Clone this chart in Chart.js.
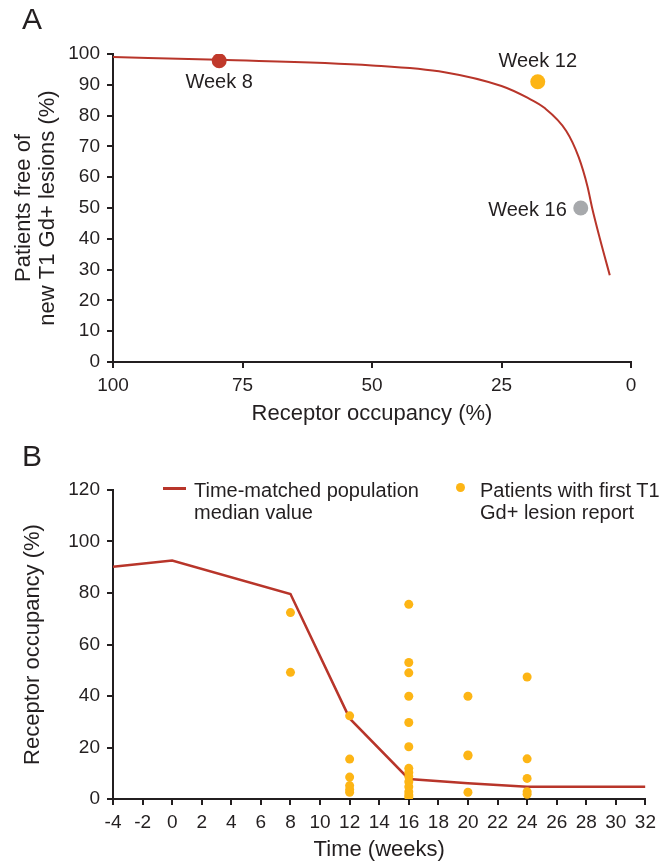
<!DOCTYPE html>
<html lang="en">
<head>
<meta charset="UTF-8">
<title>Receptor occupancy</title>
<script src="https://cdn.jsdelivr.net/npm/chart.js"></script>
<style>
body{margin:0;background:#fff;font-family:"Liberation Sans",Arial,sans-serif;color:#231f20}
#wrap{position:relative;width:662px;height:863px}
.panel{position:absolute;left:22px;font-size:30px;line-height:30px}
#boxA{position:absolute;left:0;top:0}
#boxB{position:absolute;left:0;top:430px}
.leg{position:absolute;font-size:20px;line-height:22px}
</style>
</head>
<body>
<div id="wrap">
  <canvas id="boxA" width="662" height="430"></canvas>
  <canvas id="boxB" width="662" height="433"></canvas>
  <div class="panel" style="top:4px">A</div>
  <div class="panel" style="top:441px">B</div>
  <div style="position:absolute;left:163px;top:487px;width:23px;height:2.5px;background:#b8352a"></div>
  <div class="leg" style="left:194px;top:479px">Time-matched population<br>median value</div>
  <div style="position:absolute;left:456px;top:483px;width:9px;height:9px;border-radius:50%;background:#fdb515"></div>
  <div class="leg" style="left:480px;top:479px">Patients with first T1<br>Gd+ lesion report</div>
</div>

<script>
    // panel A: fitted curve, receptor occupancy (%) vs patients free of lesions (%)
    const curveOcc  = [100, 79.6, 50, 36, 25, 20, 16.8, 12.5, 10.1, 8.4, 7.5, 6, 4.1];
    const curveFree = [99, 98.1, 96.3, 94.1, 89.6, 85.8, 82.6, 75, 66.5, 57, 50, 40, 28.2];

    const weekNames = ['Week 8', 'Week 12', 'Week 16'];
    const weekOcc   = [79.5, 18, 9.7];
    const weekFree  = [97.8, 91, 50];
    const weekColors = ['#c0392b', '#fdb515', '#a7a9ac'];

    // panel B: receptor occupancy over time
    const medianWeeks = [-4, 0, 8, 12, 16, 20, 24, 32];
    const medianOcc   = [90.2, 92.6, 79.6, 31.3, 7.8, 6.1, 4.8, 4.8];

    const lesionWeeks = [8, 8,
        12, 12, 12, 12, 12, 12,
        16, 16, 16, 16, 16, 16, 16, 16, 16, 16, 16, 16, 16, 16,
        20, 20, 20, 20,
        24, 24, 24, 24, 24];
    const lesionOcc = [72.4, 49.2,
        32.3, 15.5, 8.5, 5.2, 3.7, 2.6,
        75.6, 53, 49, 39.9, 29.7, 20.3, 11.9, 10.3, 8.7, 6.7, 4.8, 2.8, 1.6, 0.8,
        39.9, 17.1, 16.8, 2.6,
        47.4, 15.6, 8, 2.8, 1.8];

    const ink = '#231f20';
    const red = '#b8352a';
    const fontFam = '"Liberation Sans", Arial, sans-serif';

    function toPoints(xs, ys) {
        return xs.map((x, i) => ({ x: x, y: ys[i] }));
    }

    function axis(min, max, step, pad, opts) {
        return Object.assign({
            type: 'linear',
            min: min,
            max: max,
            ticks: { stepSize: step, color: ink, font: { family: fontFam, size: 19 }, autoSkip: false, maxRotation: 0, padding: pad },
            grid: { drawOnChartArea: false, drawTicks: true, tickLength: 6, color: ink, lineWidth: 2 },
            border: { color: ink, width: 2 }
        }, opts);
    }

    // labels next to the week points in panel A
    const weekLabelPlugin = {
        id: 'weekLabels',
        afterDatasetsDraw(chart) {
            const ctx = chart.ctx;
            const xs = chart.scales.x, ys = chart.scales.y;
            const offs = [[0, 22, 'center'], [0, -20, 'center'], [-14, 2, 'right']];
            ctx.save();
            ctx.font = '20px ' + fontFam;
            ctx.fillStyle = ink;
            ctx.textBaseline = 'middle';
            weekNames.forEach((name, i) => {
                ctx.textAlign = offs[i][2];
                ctx.fillText(name, xs.getPixelForValue(weekOcc[i]) + offs[i][0], ys.getPixelForValue(weekFree[i]) + offs[i][1]);
            });
            ctx.restore();
        }
    };

    Chart.defaults.font.family = fontFam;
    Chart.defaults.color = ink;

    new Chart(document.getElementById('boxA'), {
        type: 'scatter',
        data: {
            datasets: [{
                data: toPoints(weekOcc, weekFree),
                pointRadius: 7.5,
                pointHoverRadius: 7.5,
                backgroundColor: weekColors,
                borderWidth: 0,
                order: 0
            }, {
                data: toPoints(curveOcc, curveFree),
                showLine: true,
                cubicInterpolationMode: 'monotone',
                borderColor: red,
                borderWidth: 2,
                pointRadius: 0,
                order: 1
            }]
        },
        options: {
            responsive: false,
            animation: false,
            layout: { padding: { top: 54, right: 31, bottom: 0, left: 0 } },
            plugins: { legend: { display: false }, tooltip: { enabled: false } },
            scales: {
                x: axis(0, 100, 25, 6, {
                    reverse: true,
                    title: { display: true, text: 'Receptor occupancy (%)', color: ink, font: { family: fontFam, size: 22 }, padding: { top: 0, bottom: 3 } },
                    afterFit(s) { s.height = 68; }
                }),
                y: axis(0, 100, 10, 7, {
                    title: { display: true, text: ['Patients free of', 'new T1 Gd+ lesions (%)'], color: ink, font: { family: fontFam, size: 22, lineHeight: 1.09 }, padding: { top: 12, bottom: 0 } },
                    afterFit(s) { s.width = 113; }
                })
            }
        },
        plugins: [weekLabelPlugin]
    });

    new Chart(document.getElementById('boxB'), {
        type: 'scatter',
        data: {
            datasets: [{
                data: toPoints(lesionWeeks, lesionOcc),
                pointRadius: 4.5,
                pointHoverRadius: 4.5,
                backgroundColor: '#fdb515',
                borderWidth: 0,
                order: 0
            }, {
                data: toPoints(medianWeeks, medianOcc),
                showLine: true,
                borderColor: red,
                borderWidth: 2.5,
                pointRadius: 0,
                order: 1
            }]
        },
        options: {
            responsive: false,
            animation: false,
            layout: { padding: { top: 60, right: 11, bottom: 0, left: 0 } },
            plugins: { legend: { display: false }, tooltip: { enabled: false } },
            scales: {
                x: axis(-4, 32, 2, 6, {
                    title: { display: true, text: 'Time (weeks)', color: ink, font: { family: fontFam, size: 22 }, padding: { top: 0, bottom: 0 } },
                    afterFit(s) { s.height = 64; }
                }),
                y: axis(0, 120, 20, 7, {
                    title: { display: true, text: 'Receptor occupancy (%)', color: ink, font: { family: fontFam, size: 22 }, padding: { top: 20, bottom: 0 } },
                    afterFit(s) { s.width = 113; }
                })
            }
        }
    });
</script>
</body>
</html>
